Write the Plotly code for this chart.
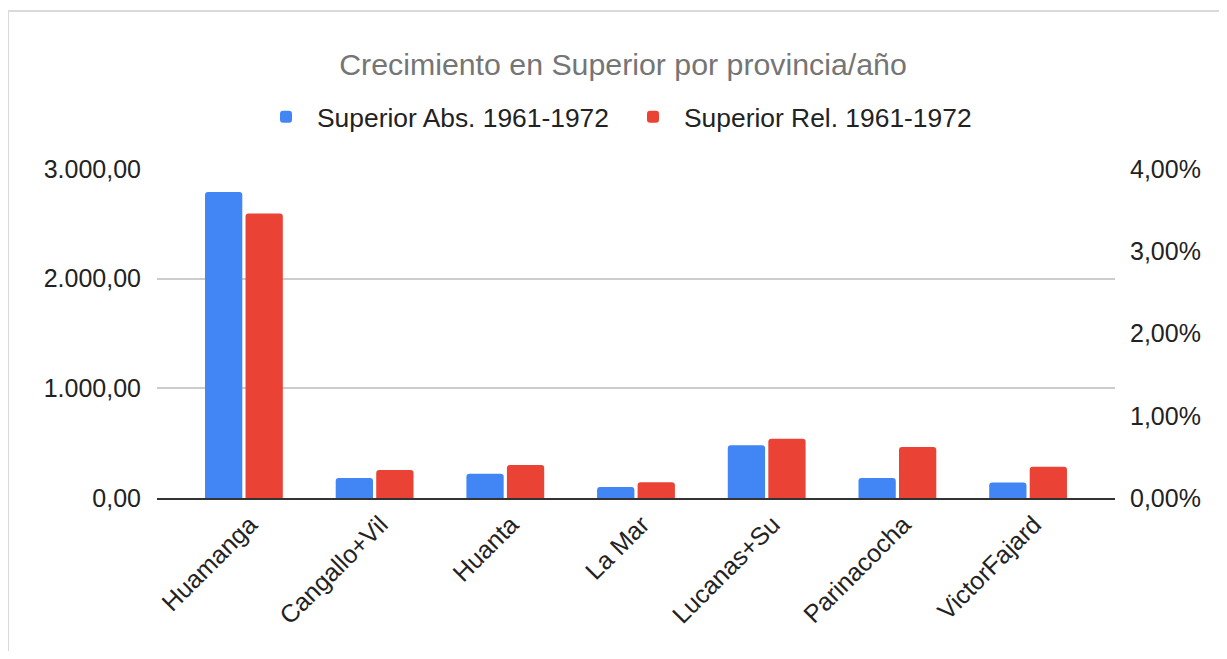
import plotly.graph_objects as go

categories = ["Huamanga", "Cangallo+Vil", "Huanta", "La Mar", "Lucanas+Su", "Parinacocha", "VictorFajard"]
superior_abs = [2790, 182, 222, 100, 480, 182, 142]
superior_rel = [0.0346, 0.0034, 0.0040, 0.0019, 0.0072, 0.0062, 0.0038]
left_ticks = [0, 1000, 2000, 3000]
right_ticks = [0, 0.01, 0.02, 0.03, 0.04]

FONT = "Liberation Sans, Arial, sans-serif"

fig = go.Figure()
fig.add_trace(go.Bar(
    x=categories, y=superior_abs, name="Superior Abs. 1961-1972",
    marker=dict(color="#4285F4", cornerradius=3, line=dict(width=0)),
    offsetgroup="a", yaxis="y",
))
fig.add_trace(go.Bar(
    x=categories, y=superior_rel, name="Superior Rel. 1961-1972",
    marker=dict(color="#EA4335", cornerradius=3, line=dict(width=0)),
    offsetgroup="b", yaxis="y2",
))

# page offset of the plot div (body margin)
OFF = 8
W, H = 1211, 643
L = 157 - OFF
T = 169 - OFF
R = W - (1115 - OFF)
B = H - (498 - OFF)
pw, ph = W - L - R, H - T - B

def px_to_paper_x(px):
    return (px - OFF - L) / pw

def px_to_paper_y(py):
    return (H - B - (py - OFF)) / ph

fig.update_layout(
    width=W, height=H,
    margin=dict(l=L, r=R, t=T, b=B, pad=0),
    paper_bgcolor="white", plot_bgcolor="white",
    separators=",.",
    barmode="group", bargap=0.38, bargroupgap=0.08,
    font=dict(family=FONT, size=25, color="#222222"),
    title=dict(
        text="Crecimiento en Superior por provincia/año",
        font=dict(family=FONT, size=30.3, color="#757575"),
        x=px_to_paper_x(623), xref="paper", xanchor="center",
        y=1 - (64 - OFF) / H, yref="container", yanchor="middle",
    ),
    legend=dict(
        orientation="h", x=px_to_paper_x(622), xanchor="center",
        y=px_to_paper_y(117), yanchor="middle",
        font=dict(family=FONT, size=26.4, color="#222222"),
        bgcolor="rgba(0,0,0,0)", itemwidth=52,
        entrywidth=300, entrywidthmode="pixels",
    ),
    xaxis=dict(
        type="category", range=[-0.665, 6.665],
        tickangle=-45, showgrid=False, ticks="",
        showline=True, linecolor="#333333", linewidth=2,
        ticklabelshift=6,
        tickfont=dict(family=FONT, size=25, color="#222222"),
    ),
    yaxis=dict(
        range=[0, 3000], tickvals=left_ticks, tickformat=",.2f",
        showgrid=True, gridcolor="#cccccc", gridwidth=1.5,
        zeroline=False, showline=False, ticks="",
        ticklabelstandoff=15,
        tickfont=dict(family=FONT, size=25, color="#222222"),
    ),
    yaxis2=dict(
        overlaying="y", side="right",
        range=[0, 0.04], tickvals=right_ticks, tickformat=".2%",
        showgrid=False, zeroline=False, showline=False, ticks="",
        ticklabelstandoff=14,
        tickfont=dict(family=FONT, size=25, color="#222222"),
    ),
    shapes=[dict(
        type="rect", xref="paper", yref="paper",
        x0=px_to_paper_x(8), x1=px_to_paper_x(1240),
        y0=px_to_paper_y(680), y1=px_to_paper_y(11),
        line=dict(color="#dadada", width=2), fillcolor="rgba(0,0,0,0)",
        layer="below",
    )],
)

fig.write_html("out.html")
